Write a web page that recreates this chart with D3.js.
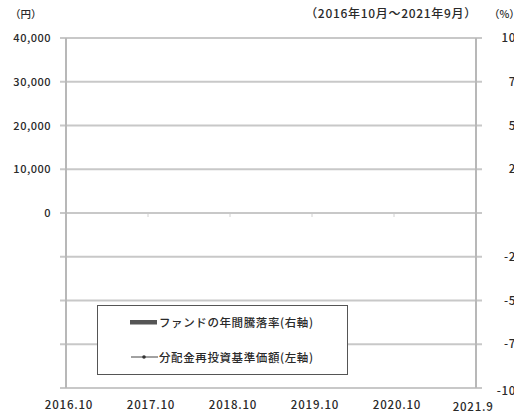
<!DOCTYPE html>
<html>
<head>
<meta charset="utf-8">
<script src="https://cdn.jsdelivr.net/npm/d3@7"></script>
<style>
  body { margin: 0; background: #fff; }
  svg { display: block; font-family: "Noto Sans CJK JP", "Noto Sans", sans-serif; }
  text { fill: #2a2a2a; font-weight: 500; }
</style>
</head>
<body>
<script>
// period labels (month index from 2016.10)
const periodLabels = ["2016.10", "2017.10", "2018.10", "2019.10", "2020.10", "2021.9"];
const periodMonths = [0, 12, 24, 36, 48, 59];
// left axis (yen) and right axis (%)
const leftTicks = [0, 10000, 20000, 30000, 40000];
const rightTicks = [-100, -75, -50, -25, 0, 25, 50, 75, 100];
// series: no values published for this period
const fundReturn = [null, null, null, null, null];
const navValues = [null, null, null, null, null, null];

const legendNames = ["ファンドの年間騰落率(右軸)", "分配金再投資基準価額(左軸)"];

const width = 514, height = 414;
const plotLeft = 66, plotRight = 476, plotTop = 38, plotBottom = 388;

const svg = d3.select("body")
  .append("svg")
  .attr("width", width)
  .attr("height", height);

const x = d3.scaleLinear().domain([0, 60]).range([plotLeft, plotRight]);
const yLeft = d3.scaleLinear().domain([-40000, 40000]).range([plotBottom, plotTop]);
const yRight = d3.scaleLinear().domain([-100, 100]).range([plotBottom, plotTop]);

// gridlines (right scale has every line)
svg.append("g")
  .selectAll("line")
  .data(rightTicks)
  .enter()
  .append("line")
  .attr("x1", plotLeft - 6)
  .attr("x2", plotRight + 6)
  .attr("y1", d => yRight(d))
  .attr("y2", d => yRight(d))
  .attr("stroke", "#c8c8c8")
  .attr("stroke-width", 2);

// vertical axis lines
svg.append("g")
  .selectAll("line")
  .data([plotLeft, plotRight])
  .enter()
  .append("line")
  .attr("x1", d => d)
  .attr("x2", d => d)
  .attr("y1", plotTop)
  .attr("y2", plotBottom)
  .attr("stroke", "#b8b8b8")
  .attr("stroke-width", 2);

// faint marks on the zero line
svg.append("g")
  .selectAll("line")
  .data(periodMonths.slice(1, 5))
  .enter()
  .append("line")
  .attr("x1", d => x(d))
  .attr("x2", d => x(d))
  .attr("y1", yLeft(0) + 1)
  .attr("y2", yLeft(0) + 4)
  .attr("stroke", "#d0d0d0")
  .attr("stroke-width", 1);

// bars (right axis)
svg.append("g")
  .selectAll("rect")
  .data(fundReturn.map((v, i) => ({ v: v, m: periodMonths[i] + 6 })).filter(d => d.v != null))
  .enter()
  .append("rect")
  .attr("x", d => x(d.m) - 15)
  .attr("width", 30)
  .attr("y", d => yRight(Math.max(0, d.v)))
  .attr("height", d => Math.abs(yRight(d.v) - yRight(0)))
  .attr("fill", "#555");

// line (left axis)
const navPoints = navValues.map((v, i) => ({ v: v, m: periodMonths[i] })).filter(d => d.v != null);
svg.append("path")
  .datum(navPoints)
  .attr("fill", "none")
  .attr("stroke", "#333")
  .attr("d", d3.line().x(d => x(d.m)).y(d => yLeft(d.v)));

// left tick labels
svg.append("g")
  .selectAll("text")
  .data(leftTicks)
  .enter()
  .append("text")
  .attr("x", 51)
  .attr("y", d => yLeft(d) + 4)
  .attr("text-anchor", "end")
  .attr("font-size", 11)
  .attr("letter-spacing", 0.5)
  .text(d => d3.format(",")(d));

// right tick labels (run past the page edge, as in the source)
svg.append("g")
  .selectAll("text")
  .data(rightTicks)
  .enter()
  .append("text")
  .attr("x", 523)
  .attr("y", d => yRight(d) + (d === -100 ? 7 : 4))
  .attr("text-anchor", "end")
  .attr("font-size", 11.5)
  .attr("letter-spacing", 0.6)
  .style("fill", d => d === 0 ? "#e2e2e2" : null)
  .text(d => d);

// period labels
svg.append("g")
  .selectAll("text")
  .data(periodLabels)
  .enter()
  .append("text")
  .attr("x", (d, i) => x(periodMonths[i]) + (i === 5 ? 4 : 3))
  .attr("y", (d, i) => i === 5 ? 411 : 409)
  .attr("text-anchor", "middle")
  .attr("font-size", 11.5)
  .attr("letter-spacing", 0.8)
  .text(d => d);

// header texts
svg.append("text").attr("x", 10).attr("y", 18).attr("font-size", 10.5).text("（円）");
svg.append("text").attr("x", 477).attr("y", 18).attr("text-anchor", "end")
  .attr("font-size", 12).attr("letter-spacing", 0.7).text("（2016年10月～2021年9月）");
svg.append("text").attr("x", 489).attr("y", 18).attr("font-size", 10.5).text("（%）");

// legend
const legend = svg.append("g");
legend.append("rect")
  .attr("x", 97.5).attr("y", 305.5)
  .attr("width", 250).attr("height", 69)
  .attr("fill", "#fff")
  .attr("stroke", "#555");

legend.append("rect")
  .attr("x", 130).attr("y", 320)
  .attr("width", 27).attr("height", 4.5)
  .attr("fill", "#555");

legend.append("line")
  .attr("x1", 131).attr("x2", 158)
  .attr("y1", 357).attr("y2", 357)
  .attr("stroke", "#444");
legend.append("circle")
  .attr("cx", 144).attr("cy", 357).attr("r", 1.8)
  .attr("fill", "#333");

legend.selectAll(".name")
  .data(legendNames)
  .enter()
  .append("text")
  .attr("class", "name")
  .attr("x", 159)
  .attr("y", (d, i) => i === 0 ? 326.5 : 361.5)
  .attr("font-size", 11.5)
  .attr("letter-spacing", 0.6)
  .text(d => d);
</script>
</body>
</html>
